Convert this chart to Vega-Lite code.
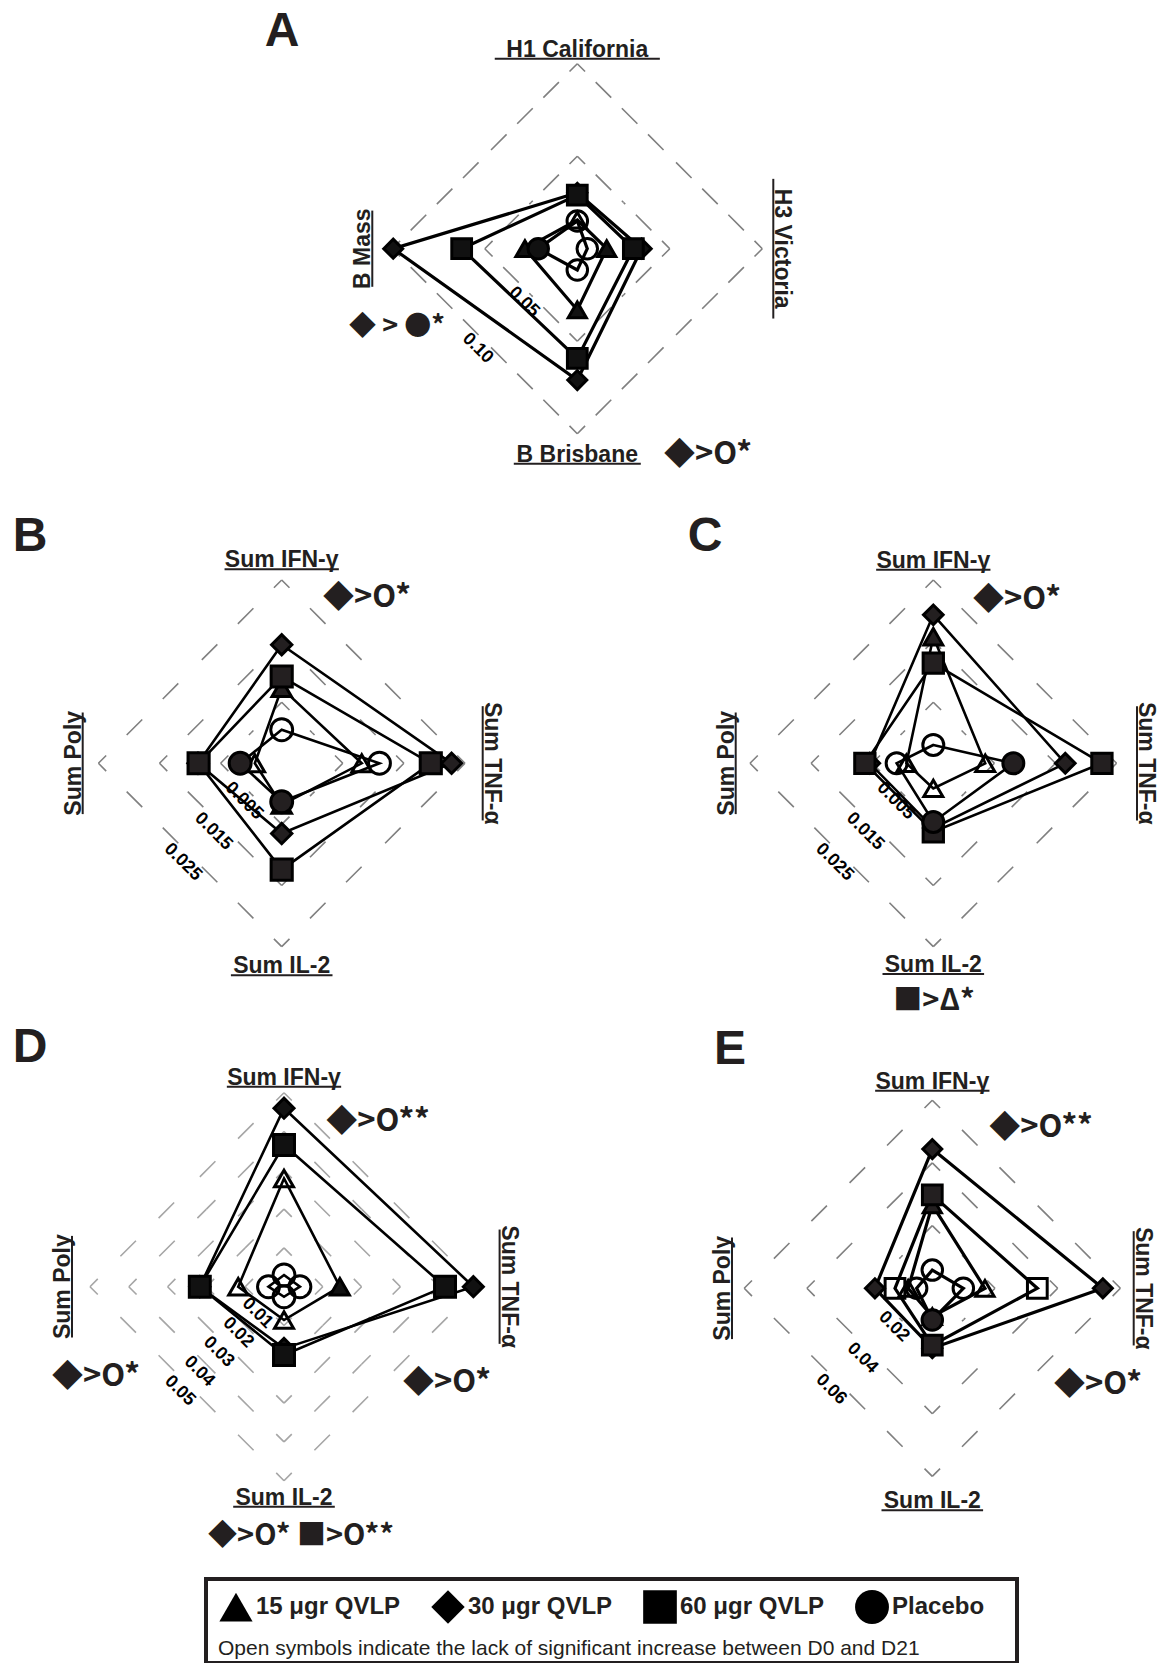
{
"$schema": "https://vega.github.io/schema/vega-lite/v6.json",
"padding": 0,
"config": {"view": {"stroke": null}, "font": "Liberation Sans"},
"datasets": {
"series": [
{"p":"A","g":"15","ax":"t","v":0.0155,"o":"O"},{"p":"A","g":"15","ax":"r","v":0.0159,"o":"F"},{"p":"A","g":"15","ax":"b","v":0.0331,"o":"F"},{"p":"A","g":"15","ax":"l","v":0.0283,"o":"F"},
{"p":"A","g":"30","ax":"t","v":0.0302,"o":"F"},{"p":"A","g":"30","ax":"r","v":0.0348,"o":"F"},{"p":"A","g":"30","ax":"b","v":0.0710,"o":"F"},{"p":"A","g":"30","ax":"l","v":0.0995,"o":"F"},
{"p":"A","g":"60","ax":"t","v":0.0290,"o":"F"},{"p":"A","g":"60","ax":"r","v":0.0303,"o":"F"},{"p":"A","g":"60","ax":"b","v":0.0593,"o":"F"},{"p":"A","g":"60","ax":"l","v":0.0625,"o":"F"},
{"p":"A","g":"P","ax":"t","v":0.0150,"o":"O"},{"p":"A","g":"P","ax":"r","v":0.0054,"o":"O"},{"p":"A","g":"P","ax":"b","v":0.0115,"o":"O"},{"p":"A","g":"P","ax":"l","v":0.0211,"o":"F"},
{"p":"B","g":"15","ax":"t","v":0.0073,"o":"F"},{"p":"B","g":"15","ax":"r","v":0.0081,"o":"O"},{"p":"B","g":"15","ax":"b","v":0.0018,"o":"F"},{"p":"B","g":"15","ax":"l","v":-0.0006,"o":"O"},
{"p":"B","g":"30","ax":"t","v":0.0144,"o":"F"},{"p":"B","g":"30","ax":"r","v":0.0228,"o":"F"},{"p":"B","g":"30","ax":"b","v":0.0065,"o":"F"},{"p":"B","g":"30","ax":"l","v":0.0087,"o":"F"},
{"p":"B","g":"60","ax":"t","v":0.0092,"o":"F"},{"p":"B","g":"60","ax":"r","v":0.0194,"o":"F"},{"p":"B","g":"60","ax":"b","v":0.0124,"o":"F"},{"p":"B","g":"60","ax":"l","v":0.0086,"o":"F"},
{"p":"B","g":"P","ax":"t","v":0.0005,"o":"O"},{"p":"B","g":"P","ax":"r","v":0.0110,"o":"O"},{"p":"B","g":"P","ax":"b","v":0.0013,"o":"F"},{"p":"B","g":"P","ax":"l","v":0.0018,"o":"F"},
{"p":"C","g":"15","ax":"t","v":0.0157,"o":"F"},{"p":"C","g":"15","ax":"r","v":0.0035,"o":"O"},{"p":"C","g":"15","ax":"b","v":-0.0009,"o":"O"},{"p":"C","g":"15","ax":"l","v":-0.0006,"o":"O"},
{"p":"C","g":"30","ax":"t","v":0.0193,"o":"F"},{"p":"C","g":"30","ax":"r","v":0.0166,"o":"F"},{"p":"C","g":"30","ax":"b","v":0.0056,"o":"F"},{"p":"C","g":"30","ax":"l","v":0.0054,"o":"F"},
{"p":"C","g":"60","ax":"t","v":0.0114,"o":"F"},{"p":"C","g":"60","ax":"r","v":0.0226,"o":"F"},{"p":"C","g":"60","ax":"b","v":0.0062,"o":"F"},{"p":"C","g":"60","ax":"l","v":0.0062,"o":"F"},
{"p":"C","g":"P","ax":"t","v":-0.0020,"o":"O"},{"p":"C","g":"P","ax":"r","v":0.0081,"o":"F"},{"p":"C","g":"P","ax":"b","v":0.0046,"o":"F"},{"p":"C","g":"P","ax":"l","v":0.0010,"o":"O"},
{"p":"D","g":"15","ax":"t","v":0.0279,"o":"O"},{"p":"D","g":"15","ax":"r","v":0.0144,"o":"F"},{"p":"D","g":"15","ax":"b","v":0.0086,"o":"O"},{"p":"D","g":"15","ax":"l","v":0.0118,"o":"O"},
{"p":"D","g":"30","ax":"t","v":0.0460,"o":"F"},{"p":"D","g":"30","ax":"r","v":0.0488,"o":"F"},{"p":"D","g":"30","ax":"b","v":0.0159,"o":"F"},{"p":"D","g":"30","ax":"l","v":0.0217,"o":"F"},
{"p":"D","g":"60","ax":"t","v":0.0365,"o":"F"},{"p":"D","g":"60","ax":"r","v":0.0415,"o":"F"},{"p":"D","g":"60","ax":"b","v":0.0176,"o":"F"},{"p":"D","g":"60","ax":"l","v":0.0217,"o":"F"},
{"p":"D","g":"P","ax":"t","v":0.0030,"o":"O"},{"p":"D","g":"P","ax":"r","v":0.0041,"o":"O"},{"p":"D","g":"P","ax":"b","v":0.0026,"o":"O"},{"p":"D","g":"P","ax":"l","v":0.0040,"o":"O"},
{"p":"E","g":"15","ax":"t","v":0.0266,"o":"F"},{"p":"E","g":"15","ax":"r","v":0.0168,"o":"O"},{"p":"E","g":"15","ax":"b","v":0.0090,"o":"F"},{"p":"E","g":"15","ax":"l","v":0.0077,"o":"O"},
{"p":"E","g":"30","ax":"t","v":0.0444,"o":"F"},{"p":"E","g":"30","ax":"r","v":0.0544,"o":"F"},{"p":"E","g":"30","ax":"b","v":0.0191,"o":"F"},{"p":"E","g":"30","ax":"l","v":0.0183,"o":"F"},
{"p":"E","g":"60","ax":"t","v":0.0298,"o":"F"},{"p":"E","g":"60","ax":"r","v":0.0335,"o":"O"},{"p":"E","g":"60","ax":"b","v":0.0181,"o":"F"},{"p":"E","g":"60","ax":"l","v":0.0119,"o":"O"},
{"p":"E","g":"P","ax":"t","v":0.0058,"o":"O"},{"p":"E","g":"P","ax":"r","v":0.0099,"o":"O"},{"p":"E","g":"P","ax":"b","v":0.0101,"o":"F"},{"p":"E","g":"P","ax":"l","v":0.0050,"o":"O"}
],
"grid": [
{"p":"A","lv":0.05,"c":"t"},{"p":"A","lv":0.05,"c":"r"},{"p":"A","lv":0.05,"c":"b"},{"p":"A","lv":0.05,"c":"l"},
{"p":"A","lv":0.10,"c":"t"},{"p":"A","lv":0.10,"c":"r"},{"p":"A","lv":0.10,"c":"b"},{"p":"A","lv":0.10,"c":"l"},
{"p":"B","lv":0.005,"c":"t"},{"p":"B","lv":0.005,"c":"r"},{"p":"B","lv":0.005,"c":"b"},{"p":"B","lv":0.005,"c":"l"},
{"p":"B","lv":0.015,"c":"t"},{"p":"B","lv":0.015,"c":"r"},{"p":"B","lv":0.015,"c":"b"},{"p":"B","lv":0.015,"c":"l"},
{"p":"B","lv":0.025,"c":"t"},{"p":"B","lv":0.025,"c":"r"},{"p":"B","lv":0.025,"c":"b"},{"p":"B","lv":0.025,"c":"l"},
{"p":"C","lv":0.005,"c":"t"},{"p":"C","lv":0.005,"c":"r"},{"p":"C","lv":0.005,"c":"b"},{"p":"C","lv":0.005,"c":"l"},
{"p":"C","lv":0.015,"c":"t"},{"p":"C","lv":0.015,"c":"r"},{"p":"C","lv":0.015,"c":"b"},{"p":"C","lv":0.015,"c":"l"},
{"p":"C","lv":0.025,"c":"t"},{"p":"C","lv":0.025,"c":"r"},{"p":"C","lv":0.025,"c":"b"},{"p":"C","lv":0.025,"c":"l"},
{"p":"D","lv":0.01,"c":"t"},{"p":"D","lv":0.01,"c":"r"},{"p":"D","lv":0.01,"c":"b"},{"p":"D","lv":0.01,"c":"l"},
{"p":"D","lv":0.02,"c":"t"},{"p":"D","lv":0.02,"c":"r"},{"p":"D","lv":0.02,"c":"b"},{"p":"D","lv":0.02,"c":"l"},
{"p":"D","lv":0.03,"c":"t"},{"p":"D","lv":0.03,"c":"r"},{"p":"D","lv":0.03,"c":"b"},{"p":"D","lv":0.03,"c":"l"},
{"p":"D","lv":0.04,"c":"t"},{"p":"D","lv":0.04,"c":"r"},{"p":"D","lv":0.04,"c":"b"},{"p":"D","lv":0.04,"c":"l"},
{"p":"D","lv":0.05,"c":"t"},{"p":"D","lv":0.05,"c":"r"},{"p":"D","lv":0.05,"c":"b"},{"p":"D","lv":0.05,"c":"l"},
{"p":"E","lv":0.02,"c":"t"},{"p":"E","lv":0.02,"c":"r"},{"p":"E","lv":0.02,"c":"b"},{"p":"E","lv":0.02,"c":"l"},
{"p":"E","lv":0.04,"c":"t"},{"p":"E","lv":0.04,"c":"r"},{"p":"E","lv":0.04,"c":"b"},{"p":"E","lv":0.04,"c":"l"},
{"p":"E","lv":0.06,"c":"t"},{"p":"E","lv":0.06,"c":"r"},{"p":"E","lv":0.06,"c":"b"},{"p":"E","lv":0.06,"c":"l"}
],
"axes": [
{"p":"A","ax":"t","t":"H1 California"},{"p":"A","ax":"r","t":"H3 Victoria"},{"p":"A","ax":"b","t":"B Brisbane"},{"p":"A","ax":"l","t":"B Mass"},
{"p":"B","ax":"t","t":"Sum IFN-γ"},{"p":"B","ax":"r","t":"Sum TNF-α"},{"p":"B","ax":"b","t":"Sum IL-2"},{"p":"B","ax":"l","t":"Sum Poly"},
{"p":"C","ax":"t","t":"Sum IFN-γ"},{"p":"C","ax":"r","t":"Sum TNF-α"},{"p":"C","ax":"b","t":"Sum IL-2"},{"p":"C","ax":"l","t":"Sum Poly"},
{"p":"D","ax":"t","t":"Sum IFN-γ"},{"p":"D","ax":"r","t":"Sum TNF-α"},{"p":"D","ax":"b","t":"Sum IL-2"},{"p":"D","ax":"l","t":"Sum Poly"},
{"p":"E","ax":"t","t":"Sum IFN-γ"},{"p":"E","ax":"r","t":"Sum TNF-α"},{"p":"E","ax":"b","t":"Sum IL-2"},{"p":"E","ax":"l","t":"Sum Poly"}
],
"notes": [
{"id":"A0","t":"A"},{"id":"A1","t":"◆ > ●*"},{"id":"A2","t":"◆>O*"},
{"id":"B0","t":"B"},{"id":"B1","t":"◆>O*"},
{"id":"C0","t":"C"},{"id":"C1","t":"◆>O*"},{"id":"C2","t":"■>Δ*"},
{"id":"D0","t":"D"},{"id":"D1","t":"◆>O**"},{"id":"D2","t":"◆>O*"},{"id":"D3","t":"◆>O*"},{"id":"D4","t":"◆>O*  ■>O**"},
{"id":"E0","t":"E"},{"id":"E1","t":"◆>O**"},{"id":"E2","t":"◆>O*"},
{"id":"L1","t":"Open symbols indicate the lack of significant increase between D0 and D21"}
],
"groups": [
{"g":"15","label":"15 μgr QVLP"},{"g":"30","label":"30 μgr QVLP"},{"g":"60","label":"60 μgr QVLP"},{"g":"P","label":"Placebo"}
]
},
"spacing": 0,
"resolve": {"scale": {"x": "independent", "y": "independent", "size": "independent", "shape": "independent", "fill": "independent"}},
"vconcat": [
{
"width": 1170, "height": 480,
"layer": [
{"data": {"name": "grid"},
"transform": [
{"filter": "datum.p=='A'"},
{"calculate": "datum.lv", "as": "r"},
{"calculate": "datum.c=='r'?datum.r:datum.c=='l'?-datum.r:0", "as": "x"},
{"calculate": "datum.c=='t'?datum.r:datum.c=='b'?-datum.r:0", "as": "y"},
{"calculate": "(datum.c=='t'||datum.c=='r')?datum.r/2:-datum.r/2", "as": "nx"},
{"calculate": "(datum.c=='t'||datum.c=='l')?datum.r/2:-datum.r/2", "as": "ny"},
{"calculate": "(datum.c=='t'||datum.c=='l')?-datum.r/2:datum.r/2", "as": "qx"},
{"calculate": "(datum.c=='t'||datum.c=='r')?datum.r/2:-datum.r/2", "as": "qy"}
],
"encoding": {
"x": {"field": "x", "type": "quantitative", "scale": {"domain": [-0.31205, 0.32038], "nice": false, "zero": false}, "axis": null},
"y": {"field": "y", "type": "quantitative", "scale": {"domain": [-0.12503, 0.13443], "nice": false, "zero": false}, "axis": null}
},
"layer": [
{"mark": {"type": "rule", "stroke": "#808080", "strokeWidth": 1.6, "strokeDash": [22, 15], "strokeDashOffset": 11}, "encoding": {"x2": {"field": "nx"}, "y2": {"field": "ny"}}},
{"mark": {"type": "rule", "stroke": "#808080", "strokeWidth": 1.6, "strokeDash": [22, 15], "strokeDashOffset": 11}, "encoding": {"x2": {"field": "qx"}, "y2": {"field": "qy"}}},
{"transform": [{"filter": "datum.c=='b'"}], "mark": {"type": "text", "angle": 45, "dy": 10, "fontSize": 18, "fontWeight": "bold", "color": "#000", "align": "center", "baseline": "middle"}, "encoding": {"x": {"field": "nx", "type": "quantitative"}, "y": {"field": "ny", "type": "quantitative"}, "text": {"field": "lv", "type": "quantitative", "format": ".2f"}}}
]},
{"data": {"name": "axes"},
"transform": [
{"filter": "datum.p=='A'"},
{"calculate": "datum.ax=='t'?0.107568:datum.ax=='r'?0.110811:datum.ax=='b'?0.111351:0.115676", "as": "rr"},
{"calculate": "datum.ax=='r'?datum.rr:datum.ax=='l'?-datum.rr:0", "as": "x"},
{"calculate": "datum.ax=='t'?datum.rr:datum.ax=='b'?-datum.rr:0", "as": "y"},
{"calculate": "datum.ax=='l'?270:datum.ax=='r'?90:0", "as": "ang"},
{"calculate": "length(datum.t)*0.0034324", "as": "hw"},
{"calculate": "datum.ax=='l'?datum.x+0.004865:datum.ax=='r'?datum.x-0.004865:-datum.hw", "as": "ux"},
{"calculate": "datum.ax=='l'?datum.x+0.004865:datum.ax=='r'?datum.x-0.004865:datum.hw", "as": "ux2"},
{"calculate": "(datum.ax=='t'||datum.ax=='b')?datum.y-0.004865:-datum.hw", "as": "uy"},
{"calculate": "(datum.ax=='t'||datum.ax=='b')?datum.y-0.004865:datum.hw", "as": "uy2"}
],
"encoding": {"x": {"field": "x", "type": "quantitative", "axis": null}, "y": {"field": "y", "type": "quantitative", "axis": null}},
"layer": [
{"mark": {"type": "text", "fontSize": 23, "fontWeight": "bold", "color": "#231f20", "align": "center", "baseline": "middle"}, "encoding": {"text": {"field": "t", "type": "nominal"}, "angle": {"field": "ang", "type": "quantitative", "scale": null}}},
{"mark": {"type": "rule", "stroke": "#231f20", "strokeWidth": 2}, "encoding": {"x": {"field": "ux", "type": "quantitative", "axis": null}, "y": {"field": "uy", "type": "quantitative", "axis": null}, "x2": {"field": "ux2"}, "y2": {"field": "uy2"}}}
]},
{"data": {"name": "series"},
"transform": [
{"filter": "datum.p=='A'"},
{"calculate": "datum.v", "as": "r"},
{"calculate": "datum.ax=='r'?datum.r:datum.ax=='l'?-datum.r:0", "as": "x"},
{"calculate": "datum.ax=='t'?datum.r:datum.ax=='b'?-datum.r:0", "as": "y"},
{"calculate": "indexof(['t','r','b','l'],datum.ax)", "as": "k"}
],
"encoding": {"x": {"field": "x", "type": "quantitative", "axis": null}, "y": {"field": "y", "type": "quantitative", "axis": null}},
"layer": [
{"mark": {"type": "line", "interpolate": "linear-closed", "stroke": "#000", "strokeWidth": 3.2}, "encoding": {"detail": {"field": "g", "type": "nominal"}, "order": {"field": "k", "type": "quantitative"}}},
{"mark": {"type": "point", "opacity": 1, "stroke": "#000", "strokeWidth": 3}, "encoding": {
"shape": {"field": "g", "type": "nominal", "scale": {"domain": ["15","30","60","P"], "range": ["triangle-up","diamond","square","circle"]}, "legend": null},
"fill": {"field": "o", "type": "nominal", "scale": {"domain": ["F","O"], "range": ["#111111","transparent"]}, "legend": null},
"size": {"field": "g", "type": "ordinal", "scale": {"domain": ["15","30","60","P"], "range": [330,420,300,300]}, "legend": null}}}
]},
{"data": {"name": "notes"}, "transform": [{"filter": "datum.id=='A0'"}], "mark": {"type": "text", "fontSize": 48, "fontWeight": "bold", "color": "#231f20", "align": "center", "baseline": "middle"}, "encoding": {"x": {"datum": -0.15962, "type": "quantitative", "axis": null}, "y": {"datum": 0.11714, "type": "quantitative", "axis": null}, "text": {"field": "t", "type": "nominal"}}},
{"data": {"name": "notes"}, "transform": [{"filter": "datum.id=='A1'"}], "mark": {"type": "text", "font": "Noto Sans CJK SC", "fontSize": 27, "fontWeight": "bold", "color": "#231f20", "align": "center", "baseline": "middle"}, "encoding": {"x": {"datum": -0.09746, "type": "quantitative", "axis": null}, "y": {"datum": -0.04232, "type": "quantitative", "axis": null}, "text": {"field": "t", "type": "nominal"}}},
{"data": {"name": "notes"}, "transform": [{"filter": "datum.id=='A2'"}], "mark": {"type": "text", "font": "Noto Sans CJK SC", "fontSize": 31, "fontWeight": "bold", "color": "#231f20", "align": "center", "baseline": "middle"}, "encoding": {"x": {"datum": 0.07065, "type": "quantitative", "axis": null}, "y": {"datum": -0.11151, "type": "quantitative", "axis": null}, "text": {"field": "t", "type": "nominal"}}}
]
},
{
"hconcat": [
{
"width": 585, "height": 540,
"layer": [
{"data": {"name": "grid"},
"transform": [
{"filter": "datum.p=='B'"},
{"calculate": "datum.lv+0.005", "as": "r"},
{"calculate": "datum.c=='r'?datum.r:datum.c=='l'?-datum.r:0", "as": "x"},
{"calculate": "datum.c=='t'?datum.r:datum.c=='b'?-datum.r:0", "as": "y"},
{"calculate": "(datum.c=='t'||datum.c=='r')?datum.r/2:-datum.r/2", "as": "nx"},
{"calculate": "(datum.c=='t'||datum.c=='l')?datum.r/2:-datum.r/2", "as": "ny"},
{"calculate": "(datum.c=='t'||datum.c=='l')?-datum.r/2:datum.r/2", "as": "qx"},
{"calculate": "(datum.c=='t'||datum.c=='r')?datum.r/2:-datum.r/2", "as": "qy"}
],
"encoding": {
"x": {"field": "x", "type": "quantitative", "scale": {"domain": [-0.046105, 0.04964], "nice": false, "zero": false}, "axis": null},
"y": {"field": "y", "type": "quantitative", "scale": {"domain": [-0.042013, 0.046367], "nice": false, "zero": false}, "axis": null}
},
"layer": [
{"mark": {"type": "rule", "stroke": "#808080", "strokeWidth": 1.6, "strokeDash": [22, 29], "strokeDashOffset": 11}, "encoding": {"x2": {"field": "nx"}, "y2": {"field": "ny"}}},
{"mark": {"type": "rule", "stroke": "#808080", "strokeWidth": 1.6, "strokeDash": [22, 29], "strokeDashOffset": 11}, "encoding": {"x2": {"field": "qx"}, "y2": {"field": "qy"}}},
{"transform": [{"filter": "datum.c=='b'"}], "mark": {"type": "text", "angle": 45, "dy": 10, "fontSize": 18, "fontWeight": "bold", "color": "#000", "align": "center", "baseline": "middle"}, "encoding": {"x": {"field": "nx", "type": "quantitative"}, "y": {"field": "ny", "type": "quantitative"}, "text": {"field": "lv", "type": "quantitative", "format": ".3f"}}}
]},
{"data": {"name": "axes"},
"transform": [
{"filter": "datum.p=='B'"},
{"calculate": "datum.ax=='t'?0.033224:datum.ax=='r'?0.03437:datum.ax=='b'?0.033224:0.034043", "as": "rr"},
{"calculate": "datum.ax=='r'?datum.rr:datum.ax=='l'?-datum.rr:0", "as": "x"},
{"calculate": "datum.ax=='t'?datum.rr:datum.ax=='b'?-datum.rr:0", "as": "y"},
{"calculate": "datum.ax=='l'?270:datum.ax=='r'?90:0", "as": "ang"},
{"calculate": "length(datum.t)*0.0010393", "as": "hw"},
{"calculate": "datum.ax=='l'?datum.x+0.001473:datum.ax=='r'?datum.x-0.001473:-datum.hw", "as": "ux"},
{"calculate": "datum.ax=='l'?datum.x+0.001473:datum.ax=='r'?datum.x-0.001473:datum.hw", "as": "ux2"},
{"calculate": "(datum.ax=='t'||datum.ax=='b')?datum.y-0.001473:-datum.hw", "as": "uy"},
{"calculate": "(datum.ax=='t'||datum.ax=='b')?datum.y-0.001473:datum.hw", "as": "uy2"}
],
"encoding": {"x": {"field": "x", "type": "quantitative", "axis": null}, "y": {"field": "y", "type": "quantitative", "axis": null}},
"layer": [
{"mark": {"type": "text", "fontSize": 23, "fontWeight": "bold", "color": "#231f20", "align": "center", "baseline": "middle"}, "encoding": {"text": {"field": "t", "type": "nominal"}, "angle": {"field": "ang", "type": "quantitative", "scale": null}}},
{"mark": {"type": "rule", "stroke": "#231f20", "strokeWidth": 2}, "encoding": {"x": {"field": "ux", "type": "quantitative", "axis": null}, "y": {"field": "uy", "type": "quantitative", "axis": null}, "x2": {"field": "ux2"}, "y2": {"field": "uy2"}}}
]},
{"data": {"name": "series"},
"transform": [
{"filter": "datum.p=='B'"},
{"calculate": "datum.v+0.005", "as": "r"},
{"calculate": "datum.ax=='r'?datum.r:datum.ax=='l'?-datum.r:0", "as": "x"},
{"calculate": "datum.ax=='t'?datum.r:datum.ax=='b'?-datum.r:0", "as": "y"},
{"calculate": "indexof(['t','r','b','l'],datum.ax)", "as": "k"}
],
"encoding": {"x": {"field": "x", "type": "quantitative", "axis": null}, "y": {"field": "y", "type": "quantitative", "axis": null}},
"layer": [
{"mark": {"type": "line", "interpolate": "linear-closed", "stroke": "#000", "strokeWidth": 2.6}, "encoding": {"detail": {"field": "g", "type": "nominal"}, "order": {"field": "k", "type": "quantitative"}}},
{"mark": {"type": "point", "opacity": 1, "stroke": "#000", "strokeWidth": 3}, "encoding": {
"shape": {"field": "g", "type": "nominal", "scale": {"domain": ["15","30","60","P"], "range": ["triangle-up","diamond","square","circle"]}, "legend": null},
"fill": {"field": "o", "type": "nominal", "scale": {"domain": ["F","O"], "range": ["#231f20","transparent"]}, "legend": null},
"size": {"field": "g", "type": "ordinal", "scale": {"domain": ["15","30","60","P"], "range": [380,480,380,340]}, "legend": null}}}
]},
{"data": {"name": "notes"}, "transform": [{"filter": "datum.id=='B0'"}], "mark": {"type": "text", "fontSize": 48, "fontWeight": "bold", "color": "#231f20", "align": "center", "baseline": "middle"}, "encoding": {"x": {"datum": -0.041195, "type": "quantitative", "axis": null}, "y": {"datum": 0.037038, "type": "quantitative", "axis": null}, "text": {"field": "t", "type": "nominal"}}},
{"data": {"name": "notes"}, "transform": [{"filter": "datum.id=='B1'"}], "mark": {"type": "text", "font": "Noto Sans CJK SC", "fontSize": 31, "fontWeight": "bold", "color": "#231f20", "align": "center", "baseline": "middle"}, "encoding": {"x": {"datum": 0.013961, "type": "quantitative", "axis": null}, "y": {"datum": 0.027103, "type": "quantitative", "axis": null}, "text": {"field": "t", "type": "nominal"}}}
]
},
{
"width": 585, "height": 540,
"layer": [
{"data": {"name": "grid"},
"transform": [
{"filter": "datum.p=='C'"},
{"calculate": "datum.lv+0.005", "as": "r"},
{"calculate": "datum.c=='r'?datum.r:datum.c=='l'?-datum.r:0", "as": "x"},
{"calculate": "datum.c=='t'?datum.r:datum.c=='b'?-datum.r:0", "as": "y"},
{"calculate": "(datum.c=='t'||datum.c=='r')?datum.r/2:-datum.r/2", "as": "nx"},
{"calculate": "(datum.c=='t'||datum.c=='l')?datum.r/2:-datum.r/2", "as": "ny"},
{"calculate": "(datum.c=='t'||datum.c=='l')?-datum.r/2:datum.r/2", "as": "qx"},
{"calculate": "(datum.c=='t'||datum.c=='r')?datum.r/2:-datum.r/2", "as": "qy"}
],
"encoding": {
"x": {"field": "x", "type": "quantitative", "scale": {"domain": [-0.057005, 0.03874], "nice": false, "zero": false}, "axis": null},
"y": {"field": "y", "type": "quantitative", "scale": {"domain": [-0.042013, 0.046367], "nice": false, "zero": false}, "axis": null}
},
"layer": [
{"mark": {"type": "rule", "stroke": "#808080", "strokeWidth": 1.6, "strokeDash": [22, 29], "strokeDashOffset": 11}, "encoding": {"x2": {"field": "nx"}, "y2": {"field": "ny"}}},
{"mark": {"type": "rule", "stroke": "#808080", "strokeWidth": 1.6, "strokeDash": [22, 29], "strokeDashOffset": 11}, "encoding": {"x2": {"field": "qx"}, "y2": {"field": "qy"}}},
{"transform": [{"filter": "datum.c=='b'"}], "mark": {"type": "text", "angle": 45, "dy": 10, "fontSize": 18, "fontWeight": "bold", "color": "#000", "align": "center", "baseline": "middle"}, "encoding": {"x": {"field": "nx", "type": "quantitative"}, "y": {"field": "ny", "type": "quantitative"}, "text": {"field": "lv", "type": "quantitative", "format": ".3f"}}}
]},
{"data": {"name": "axes"},
"transform": [
{"filter": "datum.p=='C'"},
{"calculate": "datum.ax=='t'?0.033142:datum.ax=='r'?0.034812:datum.ax=='b'?0.033011:0.033813", "as": "rr"},
{"calculate": "datum.ax=='r'?datum.rr:datum.ax=='l'?-datum.rr:0", "as": "x"},
{"calculate": "datum.ax=='t'?datum.rr:datum.ax=='b'?-datum.rr:0", "as": "y"},
{"calculate": "datum.ax=='l'?270:datum.ax=='r'?90:0", "as": "ang"},
{"calculate": "length(datum.t)*0.0010393", "as": "hw"},
{"calculate": "datum.ax=='l'?datum.x+0.001473:datum.ax=='r'?datum.x-0.001473:-datum.hw", "as": "ux"},
{"calculate": "datum.ax=='l'?datum.x+0.001473:datum.ax=='r'?datum.x-0.001473:datum.hw", "as": "ux2"},
{"calculate": "(datum.ax=='t'||datum.ax=='b')?datum.y-0.001473:-datum.hw", "as": "uy"},
{"calculate": "(datum.ax=='t'||datum.ax=='b')?datum.y-0.001473:datum.hw", "as": "uy2"}
],
"encoding": {"x": {"field": "x", "type": "quantitative", "axis": null}, "y": {"field": "y", "type": "quantitative", "axis": null}},
"layer": [
{"mark": {"type": "text", "fontSize": 23, "fontWeight": "bold", "color": "#231f20", "align": "center", "baseline": "middle"}, "encoding": {"text": {"field": "t", "type": "nominal"}, "angle": {"field": "ang", "type": "quantitative", "scale": null}}},
{"mark": {"type": "rule", "stroke": "#231f20", "strokeWidth": 2}, "encoding": {"x": {"field": "ux", "type": "quantitative", "axis": null}, "y": {"field": "uy", "type": "quantitative", "axis": null}, "x2": {"field": "ux2"}, "y2": {"field": "uy2"}}}
]},
{"data": {"name": "series"},
"transform": [
{"filter": "datum.p=='C'"},
{"calculate": "datum.v+0.005", "as": "r"},
{"calculate": "datum.ax=='r'?datum.r:datum.ax=='l'?-datum.r:0", "as": "x"},
{"calculate": "datum.ax=='t'?datum.r:datum.ax=='b'?-datum.r:0", "as": "y"},
{"calculate": "indexof(['t','r','b','l'],datum.ax)", "as": "k"}
],
"encoding": {"x": {"field": "x", "type": "quantitative", "axis": null}, "y": {"field": "y", "type": "quantitative", "axis": null}},
"layer": [
{"mark": {"type": "line", "interpolate": "linear-closed", "stroke": "#000", "strokeWidth": 2.6}, "encoding": {"detail": {"field": "g", "type": "nominal"}, "order": {"field": "k", "type": "quantitative"}}},
{"mark": {"type": "point", "opacity": 1, "stroke": "#000", "strokeWidth": 3}, "encoding": {
"shape": {"field": "g", "type": "nominal", "scale": {"domain": ["15","30","60","P"], "range": ["triangle-up","diamond","square","circle"]}, "legend": null},
"fill": {"field": "o", "type": "nominal", "scale": {"domain": ["F","O"], "range": ["#231f20","transparent"]}, "legend": null},
"size": {"field": "g", "type": "ordinal", "scale": {"domain": ["15","30","60","P"], "range": [360,440,360,320]}, "legend": null}}}
]},
{"data": {"name": "notes"}, "transform": [{"filter": "datum.id=='C0'"}], "mark": {"type": "text", "fontSize": 48, "fontWeight": "bold", "color": "#231f20", "align": "center", "baseline": "middle"}, "encoding": {"x": {"datum": -0.037365, "type": "quantitative", "axis": null}, "y": {"datum": 0.037038, "type": "quantitative", "axis": null}, "text": {"field": "t", "type": "nominal"}}},
{"data": {"name": "notes"}, "transform": [{"filter": "datum.id=='C1'"}], "mark": {"type": "text", "font": "Noto Sans CJK SC", "fontSize": 31, "fontWeight": "bold", "color": "#231f20", "align": "center", "baseline": "middle"}, "encoding": {"x": {"datum": 0.013699, "type": "quantitative", "axis": null}, "y": {"datum": 0.026727, "type": "quantitative", "axis": null}, "text": {"field": "t", "type": "nominal"}}},
{"data": {"name": "notes"}, "transform": [{"filter": "datum.id=='C2'"}], "mark": {"type": "text", "font": "Noto Sans CJK SC", "fontSize": 29, "fontWeight": "bold", "color": "#231f20", "align": "center", "baseline": "middle"}, "encoding": {"x": {"datum": 0.000115, "type": "quantitative", "axis": null}, "y": {"datum": -0.03890, "type": "quantitative", "axis": null}, "text": {"field": "t", "type": "nominal"}}}
]
}
],
"spacing": 0,
"resolve": {"scale": {"x": "independent", "y": "independent", "size": "independent", "shape": "independent", "fill": "independent"}}
},
{
"hconcat": [
{
"width": 585, "height": 557,
"layer": [
{"data": {"name": "grid"},
"transform": [
{"filter": "datum.p=='D'"},
{"calculate": "datum.lv", "as": "r"},
{"calculate": "datum.c=='r'?datum.r:datum.c=='l'?-datum.r:0", "as": "x"},
{"calculate": "datum.c=='t'?datum.r:datum.c=='b'?-datum.r:0", "as": "y"},
{"calculate": "(datum.c=='t'||datum.c=='r')?datum.r/2:-datum.r/2", "as": "nx"},
{"calculate": "(datum.c=='t'||datum.c=='l')?datum.r/2:-datum.r/2", "as": "ny"},
{"calculate": "(datum.c=='t'||datum.c=='l')?-datum.r/2:datum.r/2", "as": "qx"},
{"calculate": "(datum.c=='t'||datum.c=='r')?datum.r/2:-datum.r/2", "as": "qy"}
],
"encoding": {
"x": {"field": "x", "type": "quantitative", "scale": {"domain": [-0.073196, 0.077577], "nice": false, "zero": false}, "axis": null},
"y": {"field": "y", "type": "quantitative", "scale": {"domain": [-0.07482, 0.068737], "nice": false, "zero": false}, "axis": null}
},
"layer": [
{"mark": {"type": "rule", "stroke": "#a6a6a6", "strokeWidth": 1.6, "strokeDash": [22, 32], "strokeDashOffset": 11}, "encoding": {"x2": {"field": "nx"}, "y2": {"field": "ny"}}},
{"mark": {"type": "rule", "stroke": "#a6a6a6", "strokeWidth": 1.6, "strokeDash": [22, 32], "strokeDashOffset": 11}, "encoding": {"x2": {"field": "qx"}, "y2": {"field": "qy"}}},
{"transform": [{"filter": "datum.c=='b'"}], "mark": {"type": "text", "angle": 45, "dy": 10, "fontSize": 18, "fontWeight": "bold", "color": "#000", "align": "center", "baseline": "middle"}, "encoding": {"x": {"field": "nx", "type": "quantitative"}, "y": {"field": "ny", "type": "quantitative"}, "text": {"field": "lv", "type": "quantitative", "format": ".2f"}}}
]},
{"data": {"name": "axes"},
"transform": [
{"filter": "datum.p=='D'"},
{"calculate": "datum.ax=='t'?0.053866:datum.ax=='r'?0.057887:datum.ax=='b'?0.054381:0.056959", "as": "rr"},
{"calculate": "datum.ax=='r'?datum.rr:datum.ax=='l'?-datum.rr:0", "as": "x"},
{"calculate": "datum.ax=='t'?datum.rr:datum.ax=='b'?-datum.rr:0", "as": "y"},
{"calculate": "datum.ax=='l'?270:datum.ax=='r'?90:0", "as": "ang"},
{"calculate": "length(datum.t)*0.0016366", "as": "hw"},
{"calculate": "datum.ax=='l'?datum.x+0.00232:datum.ax=='r'?datum.x-0.00232:-datum.hw", "as": "ux"},
{"calculate": "datum.ax=='l'?datum.x+0.00232:datum.ax=='r'?datum.x-0.00232:datum.hw", "as": "ux2"},
{"calculate": "(datum.ax=='t'||datum.ax=='b')?datum.y-0.00232:-datum.hw", "as": "uy"},
{"calculate": "(datum.ax=='t'||datum.ax=='b')?datum.y-0.00232:datum.hw", "as": "uy2"}
],
"encoding": {"x": {"field": "x", "type": "quantitative", "axis": null}, "y": {"field": "y", "type": "quantitative", "axis": null}},
"layer": [
{"mark": {"type": "text", "fontSize": 23, "fontWeight": "bold", "color": "#231f20", "align": "center", "baseline": "middle"}, "encoding": {"text": {"field": "t", "type": "nominal"}, "angle": {"field": "ang", "type": "quantitative", "scale": null}}},
{"mark": {"type": "rule", "stroke": "#231f20", "strokeWidth": 2}, "encoding": {"x": {"field": "ux", "type": "quantitative", "axis": null}, "y": {"field": "uy", "type": "quantitative", "axis": null}, "x2": {"field": "ux2"}, "y2": {"field": "uy2"}}}
]},
{"data": {"name": "series"},
"transform": [
{"filter": "datum.p=='D'"},
{"calculate": "datum.v", "as": "r"},
{"calculate": "datum.ax=='r'?datum.r:datum.ax=='l'?-datum.r:0", "as": "x"},
{"calculate": "datum.ax=='t'?datum.r:datum.ax=='b'?-datum.r:0", "as": "y"},
{"calculate": "indexof(['t','r','b','l'],datum.ax)", "as": "k"}
],
"encoding": {"x": {"field": "x", "type": "quantitative", "axis": null}, "y": {"field": "y", "type": "quantitative", "axis": null}},
"layer": [
{"mark": {"type": "line", "interpolate": "linear-closed", "stroke": "#000", "strokeWidth": 2.6}, "encoding": {"detail": {"field": "g", "type": "nominal"}, "order": {"field": "k", "type": "quantitative"}}},
{"mark": {"type": "point", "opacity": 1, "stroke": "#000", "strokeWidth": 3}, "encoding": {
"shape": {"field": "g", "type": "nominal", "scale": {"domain": ["15","30","60","P"], "range": ["triangle-up","diamond","square","circle"]}, "legend": null},
"fill": {"field": "o", "type": "nominal", "scale": {"domain": ["F","O"], "range": ["#111111","transparent"]}, "legend": null},
"size": {"field": "g", "type": "ordinal", "scale": {"domain": ["15","30","60","P"], "range": [360,480,380,300]}, "legend": null}}}
]},
{"data": {"name": "notes"}, "transform": [{"filter": "datum.id=='D0'"}], "mark": {"type": "text", "fontSize": 48, "fontWeight": "bold", "color": "#231f20", "align": "center", "baseline": "middle"}, "encoding": {"x": {"datum": -0.065464, "type": "quantitative", "axis": null}, "y": {"datum": 0.061649, "type": "quantitative", "axis": null}, "text": {"field": "t", "type": "nominal"}}},
{"data": {"name": "notes"}, "transform": [{"filter": "datum.id=='D1'"}], "mark": {"type": "text", "font": "Noto Sans CJK SC", "fontSize": 31, "fontWeight": "bold", "color": "#231f20", "align": "center", "baseline": "middle"}, "encoding": {"x": {"datum": 0.024227, "type": "quantitative", "axis": null}, "y": {"datum": 0.042526, "type": "quantitative", "axis": null}, "text": {"field": "t", "type": "nominal"}}},
{"data": {"name": "notes"}, "transform": [{"filter": "datum.id=='D2'"}], "mark": {"type": "text", "font": "Noto Sans CJK SC", "fontSize": 31, "fontWeight": "bold", "color": "#231f20", "align": "center", "baseline": "middle"}, "encoding": {"x": {"datum": -0.048454, "type": "quantitative", "axis": null}, "y": {"datum": -0.023196, "type": "quantitative", "axis": null}, "text": {"field": "t", "type": "nominal"}}},
{"data": {"name": "notes"}, "transform": [{"filter": "datum.id=='D3'"}], "mark": {"type": "text", "font": "Noto Sans CJK SC", "fontSize": 31, "fontWeight": "bold", "color": "#231f20", "align": "center", "baseline": "middle"}, "encoding": {"x": {"datum": 0.04201, "type": "quantitative", "axis": null}, "y": {"datum": -0.02482, "type": "quantitative", "axis": null}, "text": {"field": "t", "type": "nominal"}}},
{"data": {"name": "notes"}, "transform": [{"filter": "datum.id=='D4'"}], "mark": {"type": "text", "font": "Noto Sans CJK SC", "fontSize": 29, "fontWeight": "bold", "color": "#231f20", "align": "center", "baseline": "middle"}, "encoding": {"x": {"datum": 0.004381, "type": "quantitative", "axis": null}, "y": {"datum": -0.06438, "type": "quantitative", "axis": null}, "text": {"field": "t", "type": "nominal"}}}
]
},
{
"width": 585, "height": 557,
"layer": [
{"data": {"name": "grid"},
"transform": [
{"filter": "datum.p=='E'"},
{"calculate": "datum.lv", "as": "r"},
{"calculate": "datum.c=='r'?datum.r:datum.c=='l'?-datum.r:0", "as": "x"},
{"calculate": "datum.c=='t'?datum.r:datum.c=='b'?-datum.r:0", "as": "y"},
{"calculate": "(datum.c=='t'||datum.c=='r')?datum.r/2:-datum.r/2", "as": "nx"},
{"calculate": "(datum.c=='t'||datum.c=='l')?datum.r/2:-datum.r/2", "as": "ny"},
{"calculate": "(datum.c=='t'||datum.c=='l')?-datum.r/2:datum.r/2", "as": "qx"},
{"calculate": "(datum.c=='t'||datum.c=='r')?datum.r/2:-datum.r/2", "as": "qy"}
],
"encoding": {
"x": {"field": "x", "type": "quantitative", "scale": {"domain": [-0.110781, 0.075821], "nice": false, "zero": false}, "axis": null},
"y": {"field": "y", "type": "quantitative", "scale": {"domain": [-0.092089, 0.085582], "nice": false, "zero": false}, "axis": null}
},
"layer": [
{"mark": {"type": "rule", "stroke": "#808080", "strokeWidth": 1.6, "strokeDash": [22, 31], "strokeDashOffset": 11}, "encoding": {"x2": {"field": "nx"}, "y2": {"field": "ny"}}},
{"mark": {"type": "rule", "stroke": "#808080", "strokeWidth": 1.6, "strokeDash": [22, 31], "strokeDashOffset": 11}, "encoding": {"x2": {"field": "qx"}, "y2": {"field": "qy"}}},
{"transform": [{"filter": "datum.c=='b'"}], "mark": {"type": "text", "angle": 45, "dy": 10, "fontSize": 18, "fontWeight": "bold", "color": "#000", "align": "center", "baseline": "middle"}, "encoding": {"x": {"field": "nx", "type": "quantitative"}, "y": {"field": "ny", "type": "quantitative"}, "text": {"field": "lv", "type": "quantitative", "format": ".2f"}}}
]},
{"data": {"name": "axes"},
"transform": [
{"filter": "datum.p=='E'"},
{"calculate": "datum.ax=='t'?0.065901:datum.ax=='r'?0.067113:datum.ax=='b'?0.067911:0.066762", "as": "rr"},
{"calculate": "datum.ax=='r'?datum.rr:datum.ax=='l'?-datum.rr:0", "as": "x"},
{"calculate": "datum.ax=='t'?datum.rr:datum.ax=='b'?-datum.rr:0", "as": "y"},
{"calculate": "datum.ax=='l'?270:datum.ax=='r'?90:0", "as": "ang"},
{"calculate": "length(datum.t)*0.0020255", "as": "hw"},
{"calculate": "datum.ax=='l'?datum.x+0.002871:datum.ax=='r'?datum.x-0.002871:-datum.hw", "as": "ux"},
{"calculate": "datum.ax=='l'?datum.x+0.002871:datum.ax=='r'?datum.x-0.002871:datum.hw", "as": "ux2"},
{"calculate": "(datum.ax=='t'||datum.ax=='b')?datum.y-0.002871:-datum.hw", "as": "uy"},
{"calculate": "(datum.ax=='t'||datum.ax=='b')?datum.y-0.002871:datum.hw", "as": "uy2"}
],
"encoding": {"x": {"field": "x", "type": "quantitative", "axis": null}, "y": {"field": "y", "type": "quantitative", "axis": null}},
"layer": [
{"mark": {"type": "text", "fontSize": 23, "fontWeight": "bold", "color": "#231f20", "align": "center", "baseline": "middle"}, "encoding": {"text": {"field": "t", "type": "nominal"}, "angle": {"field": "ang", "type": "quantitative", "scale": null}}},
{"mark": {"type": "rule", "stroke": "#231f20", "strokeWidth": 2}, "encoding": {"x": {"field": "ux", "type": "quantitative", "axis": null}, "y": {"field": "uy", "type": "quantitative", "axis": null}, "x2": {"field": "ux2"}, "y2": {"field": "uy2"}}}
]},
{"data": {"name": "series"},
"transform": [
{"filter": "datum.p=='E'"},
{"calculate": "datum.v", "as": "r"},
{"calculate": "datum.ax=='r'?datum.r:datum.ax=='l'?-datum.r:0", "as": "x"},
{"calculate": "datum.ax=='t'?datum.r:datum.ax=='b'?-datum.r:0", "as": "y"},
{"calculate": "indexof(['t','r','b','l'],datum.ax)", "as": "k"}
],
"encoding": {"x": {"field": "x", "type": "quantitative", "axis": null}, "y": {"field": "y", "type": "quantitative", "axis": null}},
"layer": [
{"mark": {"type": "line", "interpolate": "linear-closed", "stroke": "#000", "strokeWidth": 3.2}, "encoding": {"detail": {"field": "g", "type": "nominal"}, "order": {"field": "k", "type": "quantitative"}}},
{"mark": {"type": "point", "opacity": 1, "stroke": "#000", "strokeWidth": 3}, "encoding": {
"shape": {"field": "g", "type": "nominal", "scale": {"domain": ["15","30","60","P"], "range": ["triangle-up","diamond","square","circle"]}, "legend": null},
"fill": {"field": "o", "type": "nominal", "scale": {"domain": ["F","O"], "range": ["#231f20","transparent"]}, "legend": null},
"size": {"field": "g", "type": "ordinal", "scale": {"domain": ["15","30","60","P"], "range": [330,420,360,300]}, "legend": null}}}
]},
{"data": {"name": "notes"}, "transform": [{"filter": "datum.id=='E0'"}], "mark": {"type": "text", "fontSize": 48, "fontWeight": "bold", "color": "#231f20", "align": "center", "baseline": "middle"}, "encoding": {"x": {"datum": -0.06453, "type": "quantitative", "axis": null}, "y": {"datum": 0.076013, "type": "quantitative", "axis": null}, "text": {"field": "t", "type": "nominal"}}},
{"data": {"name": "notes"}, "transform": [{"filter": "datum.id=='E1'"}], "mark": {"type": "text", "font": "Noto Sans CJK SC", "fontSize": 31, "fontWeight": "bold", "color": "#231f20", "align": "center", "baseline": "middle"}, "encoding": {"x": {"datum": 0.034673, "type": "quantitative", "axis": null}, "y": {"datum": 0.051132, "type": "quantitative", "axis": null}, "text": {"field": "t", "type": "nominal"}}},
{"data": {"name": "notes"}, "transform": [{"filter": "datum.id=='E2'"}], "mark": {"type": "text", "font": "Noto Sans CJK SC", "fontSize": 31, "fontWeight": "bold", "color": "#231f20", "align": "center", "baseline": "middle"}, "encoding": {"x": {"datum": 0.052855, "type": "quantitative", "axis": null}, "y": {"datum": -0.030845, "type": "quantitative", "axis": null}, "text": {"field": "t", "type": "nominal"}}}
]
}
],
"spacing": 0,
"resolve": {"scale": {"x": "independent", "y": "independent", "size": "independent", "shape": "independent", "fill": "independent"}}
},
{
"hconcat": [
{"width": 204, "height": 84, "data": {"values": [{"t": ""}]}, "mark": {"type": "text"}, "encoding": {"text": {"field": "t", "type": "nominal"}}},
{
"width": 811, "height": 84,
"view": {"stroke": "#231f20", "strokeWidth": 4},
"layer": [
{"data": {"name": "groups"}, "mark": {"type": "point", "filled": true, "opacity": 1, "color": "#000"}, "encoding": {
"x": {"field": "g", "type": "nominal", "scale": {"type": "point", "domain": ["15","30","60","P"], "padding": 0.4127, "align": 0.1714}, "axis": null},
"y": {"datum": "a", "type": "nominal", "scale": {"type": "point", "domain": ["a","b"], "padding": 0.5, "align": 0.667}, "axis": null},
"shape": {"field": "g", "type": "nominal", "scale": {"domain": ["15","30","60","P"], "range": ["triangle-up","diamond","square","circle"]}, "legend": null},
"size": {"field": "g", "type": "ordinal", "scale": {"domain": ["15","30","60","P"], "range": [1100,1150,900,1369]}, "legend": null}}},
{"data": {"name": "groups"}, "mark": {"type": "text", "align": "left", "baseline": "middle", "dx": 20, "fontSize": 24, "fontWeight": "bold", "color": "#231f20"}, "encoding": {
"x": {"field": "g", "type": "nominal", "axis": null},
"y": {"datum": "a", "type": "nominal", "axis": null},
"text": {"field": "label", "type": "nominal"}}},
{"data": {"name": "notes"}, "transform": [{"filter": "datum.id=='L1'"}], "mark": {"type": "text", "align": "left", "baseline": "middle", "dx": -18, "fontSize": 21, "color": "#231f20"}, "encoding": {
"x": {"datum": "15", "type": "nominal", "axis": null},
"y": {"datum": "b", "type": "nominal", "axis": null},
"text": {"field": "t", "type": "nominal"}}}
]
}
],
"spacing": 0,
"resolve": {"scale": {"x": "independent", "y": "independent", "size": "independent", "shape": "independent", "fill": "independent"}}
}
]
}
